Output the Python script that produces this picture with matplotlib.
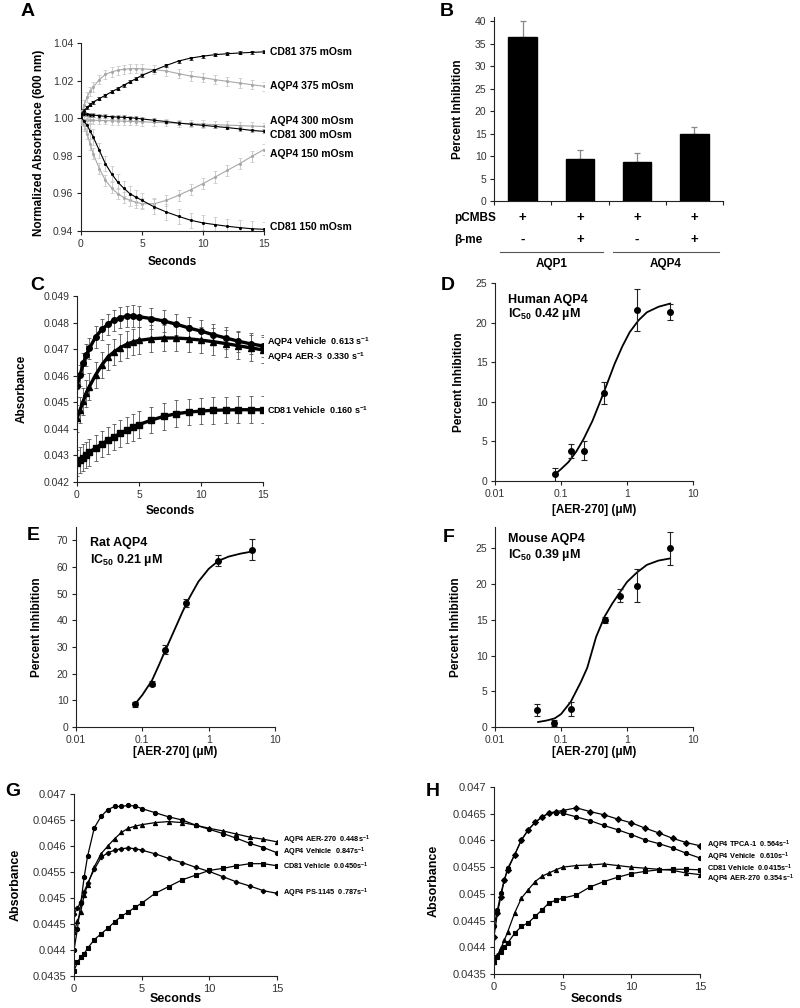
import matplotlib
matplotlib.use("Agg")
import matplotlib.pyplot as plt
import matplotlib.transforms as mtrans
from matplotlib.ticker import FixedLocator, FixedFormatter, NullLocator, FuncFormatter
import numpy as np

plt.rcParams['font.family'] = ['Liberation Sans', 'DejaVu Sans']
plt.rcParams['mathtext.default'] = 'regular'

# ---------------- data ----------------
T = [0, 0.25, 0.5, 0.75, 1, 1.5, 2, 2.5, 3, 3.5, 4, 4.5, 5, 6, 7, 8, 9, 10, 11, 12, 13, 14, 15]

# Panel A
A_cd81_375 = [1.0024, 1.0040, 1.0058, 1.0072, 1.0086, 1.0104, 1.0122, 1.0140, 1.0157, 1.0175, 1.0193, 1.0210,
              1.0228, 1.0255, 1.0281, 1.0304, 1.0320, 1.0330, 1.0338, 1.0343, 1.0347, 1.0350, 1.0353]
A_aqp4_375 = [1.0015, 1.0070, 1.0113, 1.0143, 1.0166, 1.0205, 1.0233, 1.0246, 1.0255, 1.0260, 1.0263, 1.0264,
              1.0263, 1.0258, 1.0251, 1.0237, 1.0224, 1.0216, 1.0205, 1.0196, 1.0187, 1.0178, 1.0170]
A_aqp4_300 = [0.9990, 0.9990, 0.9990, 0.9989, 0.9989, 0.9988, 0.9987, 0.9986, 0.9985, 0.9984, 0.9983, 0.9982,
              0.9981, 0.9978, 0.9976, 0.9973, 0.9971, 0.9968, 0.9966, 0.9963, 0.9961, 0.9958, 0.9956]
A_cd81_300 = [1.0024, 1.0022, 1.0020, 1.0018, 1.0017, 1.0013, 1.0010, 1.0008, 1.0006, 1.0005, 1.0003, 1.0000,
              0.9996, 0.9989, 0.9982, 0.9974, 0.9968, 0.9962, 0.9956, 0.9950, 0.9943, 0.9935, 0.9930]
A_aqp4_150 = [1.0006, 0.9962, 0.9918, 0.9862, 0.9811, 0.9732, 0.9670, 0.9630, 0.9599, 0.9578, 0.9563, 0.9553,
              0.9545, 0.9545, 0.9563, 0.9590, 0.9620, 0.9652, 0.9687, 0.9723, 0.9758, 0.9797, 0.9833]
A_cd81_150 = [1.0006, 0.9985, 0.9962, 0.9932, 0.9900, 0.9829, 0.9758, 0.9705, 0.9661, 0.9628, 0.9599, 0.9580,
              0.9563, 0.9528, 0.9501, 0.9478, 0.9457, 0.9443, 0.9434, 0.9425, 0.9418, 0.9412, 0.9409]
A_labels = ["CD81 375 mOsm", "AQP4 375 mOsm", "AQP4 300 mOsm", "CD81 300 mOsm", "AQP4 150 mOsm", "CD81 150 mOsm"]
A_label_y = [1.0352, 1.0171, 0.9985, 0.9911, 0.9810, 0.9421]

# Panel B
B_vals = [36.5, 9.3, 8.7, 14.9]
B_errs = [3.7, 2.1, 2.1, 1.7]
B_pcmbs = ["+", "+", "+", "+"]
B_bme = ["-", "+", "-", "+"]
B_groups = ["AQP1", "AQP4"]

# Panel C
C_veh = [0.04561, 0.04602, 0.04646, 0.04678, 0.04703, 0.04746, 0.04774, 0.04794, 0.04809, 0.04818, 0.04824, 0.04825,
         0.04822, 0.04815, 0.04806, 0.04794, 0.04780, 0.04768, 0.04754, 0.04742, 0.04730, 0.04720, 0.04712]
C_aer3 = [0.04440, 0.04471, 0.04503, 0.04534, 0.04559, 0.04603, 0.04640, 0.04671, 0.04690, 0.04706, 0.04718, 0.04727,
          0.04733, 0.04739, 0.04742, 0.04742, 0.04739, 0.04734, 0.04728, 0.04721, 0.04713, 0.04705, 0.04697]
C_cd81 = [0.04272, 0.04282, 0.04292, 0.04302, 0.04312, 0.04328, 0.04343, 0.04357, 0.04370, 0.04383, 0.04395, 0.04406,
          0.04416, 0.04433, 0.04447, 0.04457, 0.04463, 0.04467, 0.04470, 0.04471, 0.04472, 0.04472, 0.04472]
C_errs = [0.0004, 0.0005, 0.0005]
C_labels = [r"AQP4 Vehicle  0.613 s$^{-1}$", r"AQP4 AER-3  0.330 s$^{-1}$", r"CD81 Vehicle  0.160 s$^{-1}$"]
C_label_y = [0.04727, 0.04670, 0.04471]

# Panel D
D_x = [0.081, 0.141, 0.224, 0.445, 1.42, 4.54]
D_y = [0.85, 3.75, 3.85, 11.1, 21.6, 21.35]
D_err = [0.8, 0.9, 1.25, 1.35, 2.6, 1.05]
D_fit_x = [0.08, 0.1, 0.13, 0.17, 0.22, 0.3, 0.4, 0.5, 0.65, 0.85, 1.1, 1.5, 2.0, 3.0, 4.5]
D_fit_y = [0.8, 1.5, 2.4, 3.7, 5.3, 7.6, 10.2, 12.3, 14.8, 17.0, 18.8, 20.3, 21.3, 22.0, 22.4]

# Panel E
E_x = [0.0775, 0.138, 0.220, 0.450, 1.40, 4.45]
E_y = [8.5, 16.2, 29.0, 46.5, 62.4, 66.5]
E_err = [1.0, 1.0, 1.8, 1.5, 2.0, 4.0]
E_fit_x = [0.08, 0.1, 0.14, 0.18, 0.22, 0.3, 0.4, 0.5, 0.7, 1.0, 1.4, 2.0, 3.0, 4.5]
E_fit_y = [9.0, 12.0, 17.5, 23.5, 28.5, 36.0, 43.0, 48.0, 54.5, 59.3, 62.3, 63.9, 65.0, 65.8]

# Panel F
F_x = [0.0437, 0.078, 0.14, 0.461, 0.796, 1.42, 4.54]
F_y = [2.4, 0.6, 2.5, 15.0, 18.4, 19.8, 25.0]
F_err = [0.85, 0.4, 1.0, 0.45, 0.9, 2.3, 2.3]
F_fit_x = [0.045, 0.06, 0.08, 0.1, 0.14, 0.2, 0.25, 0.34, 0.46, 0.6, 0.8, 1.0, 1.4, 2.0, 3.0, 4.5]
F_fit_y = [0.7, 0.9, 1.2, 1.8, 3.5, 6.3, 8.3, 12.6, 15.5, 17.3, 19.0, 20.3, 21.6, 22.7, 23.3, 23.6]

# Panel G
G_veh = [0.04400, 0.04440, 0.04490, 0.04540, 0.04580, 0.04635, 0.04657, 0.04670, 0.04676, 0.04676, 0.04678, 0.04677,
         0.04672, 0.04664, 0.04656, 0.04650, 0.04640, 0.04632, 0.04624, 0.04615, 0.04605, 0.04597, 0.04587]
G_aer = [0.04435, 0.04455, 0.04474, 0.04505, 0.04525, 0.04560, 0.04585, 0.04600, 0.04614, 0.04626, 0.04634, 0.04638,
         0.04641, 0.04645, 0.04647, 0.04645, 0.04640, 0.04634, 0.04629, 0.04623, 0.04617, 0.04613, 0.04608]
G_ps = [0.04470, 0.04480, 0.04493, 0.04512, 0.04528, 0.04555, 0.04578, 0.04587, 0.04592, 0.04595, 0.04596, 0.04595,
        0.04592, 0.04585, 0.04576, 0.04568, 0.04559, 0.04551, 0.04541, 0.04531, 0.04523, 0.04514, 0.04509]
G_cd81 = [0.04360, 0.04376, 0.04387, 0.04393, 0.04403, 0.04420, 0.04431, 0.04442, 0.04454, 0.04465, 0.04473, 0.04482,
          0.04490, 0.04509, 0.04522, 0.04535, 0.04544, 0.04553, 0.04557, 0.04562, 0.04566, 0.04566, 0.04562]
G_labels = [r"AQP4 AER-270  0.448s$^{-1}$", r"AQP4 Vehicle  0.847s$^{-1}$",
            r"CD81 Vehicle  0.0450s$^{-1}$", r"AQP4 PS-1145  0.787s$^{-1}$"]
G_label_y = [0.046100, 0.045870, 0.045615, 0.045096]

# Panel H
H_tpca = [0.04420, 0.04464, 0.04495, 0.04526, 0.04545, 0.04573, 0.04601, 0.04620, 0.04634, 0.04644, 0.04651, 0.04654,
          0.04656, 0.04661, 0.04654, 0.04648, 0.04640, 0.04633, 0.04623, 0.04614, 0.04604, 0.04596, 0.04590]
H_veh = [0.04439, 0.04470, 0.04501, 0.04526, 0.04548, 0.04573, 0.04601, 0.04620, 0.04634, 0.04644, 0.04651, 0.04652,
         0.04651, 0.04644, 0.04637, 0.04628, 0.04620, 0.04611, 0.04601, 0.04594, 0.04586, 0.04576, 0.04567]
H_aer = [0.04373, 0.04385, 0.04398, 0.04413, 0.04429, 0.04464, 0.04492, 0.04508, 0.04523, 0.04533, 0.04539, 0.04545,
         0.04550, 0.04553, 0.04554, 0.04556, 0.04553, 0.04550, 0.04548, 0.04546, 0.04544, 0.04539, 0.04536]
H_cd81 = [0.04373, 0.04382, 0.04392, 0.04400, 0.04408, 0.04426, 0.04439, 0.04446, 0.04458, 0.04470, 0.04483, 0.04488,
          0.04492, 0.04498, 0.04513, 0.04523, 0.04531, 0.04538, 0.04542, 0.04545, 0.04546, 0.04546, 0.04545]
H_labels = [r"AQP4 TPCA-1  0.564s$^{-1}$", r"AQP4 Vehicle  0.610s$^{-1}$",
            r"CD81 Vehicle  0.0415s$^{-1}$", r"AQP4 AER-270  0.354s$^{-1}$"]
H_label_y = [0.045910, 0.045680, 0.045480, 0.045280]

# ---------------- figure ----------------
W, H = 800, 1008
fig = plt.figure(figsize=(W / 100, H / 100), dpi=100)


def add_ax(left, right, top, bottom):
    return fig.add_axes([left / W, 1 - bottom / H, (right - left) / W, (bottom - top) / H])


def style(ax):
    for s in ['top', 'right']:
        ax.spines[s].set_visible(False)
    for s in ['left', 'bottom']:
        ax.spines[s].set_color('#222222')
        ax.spines[s].set_linewidth(0.8)
    ax.tick_params(direction='out', length=3, width=0.8, colors='#222222',
                   labelcolor='#333333', labelsize=7.5, pad=2.5)


def letter(x, y, s):
    fig.text(x / W, 1 - y / H, s, fontsize=14, fontweight='bold', ha='center', va='center')


BOLD = dict(fontweight='bold')

# ---- A ----
axA = add_ax(81, 264, 43, 231)
style(axA)
gray = '#a8a8a8'
seriesA = [(A_cd81_375, 'black', 'black', 0.0008),
           (A_aqp4_375, gray, '#c4c4c4', 0.0025),
           (A_aqp4_300, gray, '#c4c4c4', 0.0020),
           (A_cd81_300, 'black', '#888888', 0.0010),
           (A_aqp4_150, gray, '#c4c4c4', 0.0030),
           (A_cd81_150, 'black', '#c4c4c4', 0.0040)]
for ys, c, ec, e in seriesA:
    axA.errorbar(T, ys, yerr=e, color=c, ecolor=ec, elinewidth=0.6, capsize=1.2, capthick=0.5,
                 marker='.', ms=2.5, lw=0.8, zorder=3 if c == 'black' else 2)
axA.set_xlim(0, 15)
axA.set_ylim(0.94, 1.04)
axA.set_xticks([0, 5, 10, 15])
axA.set_yticks([0.94, 0.96, 0.98, 1.00, 1.02, 1.04])
axA.yaxis.set_major_formatter(FuncFormatter(lambda v, p: f"{v:.2f}"))
axA.set_xlabel("Seconds", fontsize=8.5, **BOLD)
axA.xaxis.set_label_coords(0.5, -0.135)
axA.set_ylabel("Normalized Absorbance (600 nm)", fontsize=8.5, **BOLD)
axA.yaxis.set_label_coords(-0.197, 0.47)
for s, yv in zip(A_labels, A_label_y):
    axA.text(1.033, yv, s, transform=mtrans.blended_transform_factory(axA.transAxes, axA.transData),
             fontsize=7.5, va='center', ha='left', **BOLD)
letter(28, 12, "A")

# ---- B ----
axB = add_ax(494, 723, 17, 201)
style(axB)
xb = np.arange(len(B_vals))
axB.bar(xb, B_vals, width=0.5, color='black', edgecolor='black', zorder=3)
axB.errorbar(xb, B_vals, yerr=[np.zeros(len(B_errs)), B_errs], fmt='none', ecolor='#888888',
             elinewidth=0.9, capsize=2.5, capthick=0.9, zorder=2)
axB.set_xlim(-0.5, 3.5)
axB.set_ylim(0, 41)
axB.set_yticks(range(0, 41, 5))
axB.set_xticks([-0.5, 0.5, 1.5, 2.5, 3.5])
axB.set_xticklabels([])
axB.set_ylabel("Percent Inhibition", fontsize=8.5, **BOLD)
axB.yaxis.set_label_coords(-0.131, 0.5)
trB = mtrans.blended_transform_factory(axB.transData, axB.transAxes)
axB.text(-0.175, -0.094, "pCMBS", transform=axB.transAxes, fontsize=8.5, ha='left', va='center', **BOLD)
axB.text(-0.175, -0.211, "β-me", transform=axB.transAxes, fontsize=8.5, ha='left', va='center', **BOLD)
for i in range(len(B_vals)):
    axB.text(xb[i], -0.094, B_pcmbs[i], transform=trB, fontsize=9.5, ha='center', va='center', **BOLD)
    axB.text(xb[i], -0.211, B_bme[i], transform=trB, fontsize=9.5, ha='center', va='center', **BOLD)
for (x0, x1), g, xc in zip([(-0.395, 1.404), (1.579, 3.43)], B_groups, [0.513, 2.49]):
    axB.plot([x0, x1], [-0.278, -0.278], transform=trB, color='#555555', lw=0.8, clip_on=False)
    axB.text(xc, -0.344, g, transform=trB, fontsize=8.5, ha='center', va='center', **BOLD)
letter(447, 12, "B")

# ---- C ----
axC = add_ax(77, 263, 296, 482)
style(axC)
for ys, m, e in [(C_veh, 'o', C_errs[0]), (C_aer3, '^', C_errs[1]), (C_cd81, 's', C_errs[2])]:
    axC.errorbar(T, ys, yerr=e, color='black', ecolor='#555555', elinewidth=0.6, capsize=1.5,
                 capthick=0.6, marker=m, ms=4, lw=2.4)
axC.set_xlim(0, 15)
axC.set_ylim(0.042, 0.049)
axC.set_xticks([0, 5, 10, 15])
axC.set_yticks([0.042 + 0.001 * i for i in range(8)])
axC.yaxis.set_major_formatter(FuncFormatter(lambda v, p: f"{v:.3f}"))
axC.set_xlabel("Seconds", fontsize=8.5, **BOLD)
axC.xaxis.set_label_coords(0.5, -0.125)
axC.set_ylabel("Absorbance", fontsize=8.5, **BOLD)
axC.yaxis.set_label_coords(-0.263, 0.5)
for s, yv in zip(C_labels, C_label_y):
    axC.text(1.02, yv, s, transform=mtrans.blended_transform_factory(axC.transAxes, axC.transData),
             fontsize=6.5, va='center', ha='left', **BOLD)
letter(37, 285, "C")


# ---- D, E, F ----
def dose_panel(ax, xs, ys, es, fx, fy, ylim, yticks, ylab_x, xlab_y):
    style(ax)
    ax.set_xscale('log')
    ax.plot(fx, fy, color='black', lw=1.3, zorder=2)
    ax.errorbar(xs, ys, yerr=es, fmt='o', color='black', ms=4, ecolor='#222222',
                elinewidth=0.8, capsize=2.5, capthick=0.8, zorder=3)
    ax.set_xlim(0.01, 10)
    ax.set_ylim(*ylim)
    ax.xaxis.set_major_locator(FixedLocator([0.01, 0.1, 1, 10]))
    ax.xaxis.set_major_formatter(FixedFormatter(['0.01', '0.1', '1', '10']))
    ax.xaxis.set_minor_locator(NullLocator())
    ax.set_yticks(yticks)
    ax.set_xlabel("[AER-270] (μM)", fontsize=8.5, **BOLD)
    ax.xaxis.set_label_coords(0.5, xlab_y)
    ax.set_ylabel("Percent Inhibition", fontsize=8.5, **BOLD)
    ax.yaxis.set_label_coords(ylab_x, 0.5)
    return ax


axD = add_ax(495, 693, 283, 481)
dose_panel(axD, D_x, D_y, D_err, D_fit_x, D_fit_y, (0, 25), range(0, 26, 5), -0.152, -0.118)
fig.text(508 / W, 1 - 300 / H, "Human AQP4", fontsize=9, ha='left', va='center', **BOLD)
fig.text(508 / W, 1 - 314 / H, r"IC$_{50}$ 0.42 µM", fontsize=9, ha='left', va='center', **BOLD)
letter(448, 285, "D")

axE = add_ax(76, 275, 527, 727)
dose_panel(axE, E_x, E_y, E_err, E_fit_x, E_fit_y, (0, 75), range(0, 71, 10), -0.166, -0.095)
fig.text(90 / W, 1 - 543 / H, "Rat AQP4", fontsize=9, ha='left', va='center', **BOLD)
fig.text(90 / W, 1 - 560 / H, r"IC$_{50}$ 0.21 µM", fontsize=9, ha='left', va='center', **BOLD)
letter(33, 535, "E")

axF = add_ax(495, 693, 527, 727)
dose_panel(axF, F_x, F_y, F_err, F_fit_x, F_fit_y, (0, 28), range(0, 26, 5), -0.167, -0.095)
fig.text(508 / W, 1 - 539 / H, "Mouse AQP4", fontsize=9, ha='left', va='center', **BOLD)
fig.text(508 / W, 1 - 555 / H, r"IC$_{50}$ 0.39 µM", fontsize=9, ha='left', va='center', **BOLD)
letter(449, 537, "F")


# ---- G, H ----
def kinetic_panel(ax, series, labels, label_y, ylab_x, xlab_y, lab_x):
    style(ax)
    for ys, m in series:
        ax.plot(T, ys, color='black', lw=0.9, marker=m, ms=3, mew=0.8)
    ax.set_xlim(0, 15)
    ax.set_ylim(0.0435, 0.047)
    ax.set_xticks([0, 5, 10, 15])
    ax.set_yticks([0.0435 + 0.0005 * i for i in range(8)])
    ax.yaxis.set_major_formatter(FuncFormatter(lambda v, p: f"{v:.4f}".rstrip('0')))
    ax.tick_params(labelsize=8)
    ax.set_xlabel("Seconds", fontsize=9, **BOLD)
    ax.xaxis.set_label_coords(0.5, xlab_y)
    ax.set_ylabel("Absorbance", fontsize=9, **BOLD)
    ax.yaxis.set_label_coords(ylab_x, 0.5)
    tr = mtrans.blended_transform_factory(ax.transAxes, ax.transData)
    for s, yv in zip(labels, label_y):
        ax.text(lab_x, yv, s, transform=tr, fontsize=5.3, va='center', ha='left', **BOLD)


axG = add_ax(74, 277, 794, 976)
kinetic_panel(axG, [(G_aer, '^'), (G_veh, 'o'), (G_cd81, 's'), (G_ps, 'P')],
              G_labels, G_label_y, -0.256, -0.093, 1.03)
letter(13, 792, "G")

axH = add_ax(494, 700, 787, 974)
kinetic_panel(axH, [(H_tpca, 'D'), (H_veh, 'o'), (H_cd81, 's'), (H_aer, '^')],
              H_labels, H_label_y, -0.262, -0.100, 1.034)
letter(433, 792, "H")

fig.savefig("out.png", dpi=100)
